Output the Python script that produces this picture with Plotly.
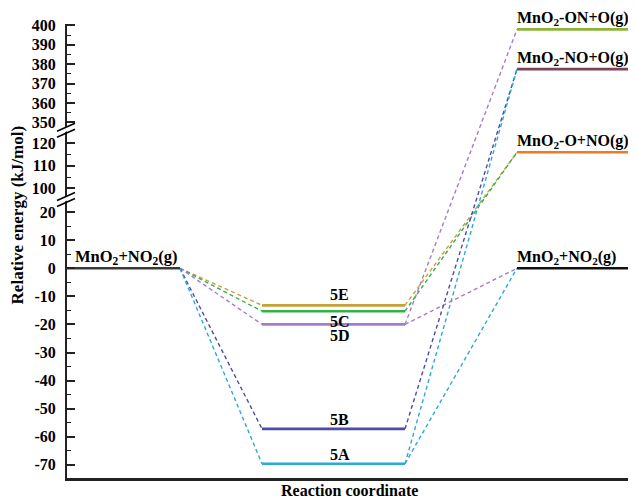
import plotly.graph_objects as go

# ---------------- data ----------------
reactant_label = "MnO<sub>2</sub>+NO<sub>2</sub>(g)"
reactant_energy = 0.0

intermediates = ["5E", "5C", "5D", "5B", "5A"]
intermediate_energy = [-13.2, -15.3, -20.0, -57.2, -69.6]
intermediate_color = ["#C9A03C", "#34B04A", "#A77BCB", "#4A4CA6", "#2BA8DF"]

products = ["MnO<sub>2</sub>-ON+O(g)", "MnO<sub>2</sub>-NO+O(g)",
            "MnO<sub>2</sub>-O+NO(g)", "MnO<sub>2</sub>+NO<sub>2</sub>(g)"]
product_energy = [398.0, 377.5, 116.0, 0.0]
product_color = ["#8DB23A", "#7A4158", "#F07A24", "#111111"]

# connections intermediate -> product
links = [("5E", 2), ("5C", 2), ("5D", 0), ("5D", 3), ("5B", 1), ("5A", 1), ("5A", 3)]

tick_major = [-70, -60, -50, -40, -30, -20, -10, 0, 10, 20, 100, 110, 120,
              350, 360, 370, 380, 390, 400]
tick_minor = [-65, -55, -45, -35, -25, -15, -5, 5, 15, 105, 115,
              355, 365, 375, 385, 395]

# ---------------- broken-axis transform ----------------
segments = [(-75.0, 24.5, 1.0), (95.0, 125.8, 0.8), (345.9, 402.0, 0.69)]


def tf(v):
    disp = segments[0][0]
    for lo, hi, s in segments:
        if v <= hi or (lo, hi, s) == segments[-1]:
            return disp + (max(v, lo) - lo) * s
        disp += (hi - lo) * s
    return disp


breaks = []
d = segments[0][0]
for lo, hi, s in segments[:-1]:
    d += (hi - lo) * s
    breaks.append(d)

# stage spans (x units)
span_react = (0, 113)
span_inter = (195, 338)
span_prod = (450, 566)

FONT = "Liberation Serif"
fig = go.Figure()

# dashed links reactant -> intermediates
for e, c in zip(intermediate_energy, intermediate_color):
    fig.add_trace(go.Scatter(x=[span_react[1], span_inter[0]], y=[tf(reactant_energy), tf(e)],
                             mode="lines", line=dict(color=c, width=1.4, dash="4px,3px"),
                             hoverinfo="skip", showlegend=False))
# dashed links intermediates -> products
for name, pi in links:
    i = intermediates.index(name)
    fig.add_trace(go.Scatter(x=[span_inter[1], span_prod[0]],
                             y=[tf(intermediate_energy[i]), tf(product_energy[pi])],
                             mode="lines", line=dict(color=intermediate_color[i], width=1.4, dash="4px,3px"),
                             hoverinfo="skip", showlegend=False))

# levels
fig.add_trace(go.Scatter(x=list(span_react), y=[tf(reactant_energy)] * 2, mode="lines",
                         line=dict(color="#3a3a3a", width=2.6), showlegend=False))
for e, c in zip(intermediate_energy, intermediate_color):
    fig.add_trace(go.Scatter(x=list(span_inter), y=[tf(e)] * 2, mode="lines",
                             line=dict(color=c, width=2.6), showlegend=False))
for e, c in zip(product_energy, product_color):
    fig.add_trace(go.Scatter(x=list(span_prod), y=[tf(e)] * 2, mode="lines",
                             line=dict(color=c, width=2.6), showlegend=False))

annotations = []
lab_font = dict(family=FONT, size=16.5, color="black")
annotations.append(dict(x=span_react[0] + 6, y=tf(reactant_energy), text="<b>" + reactant_label + "</b>",
                        xanchor="left", yanchor="bottom", showarrow=False, font=lab_font, yshift=-1))
for p, e in zip(products, product_energy):
    annotations.append(dict(x=span_prod[0] - 2, y=tf(e), text="<b>" + p + "</b>",
                            xanchor="left", yanchor="bottom", showarrow=False,
                            font=dict(family=FONT, size=16, color="black"), yshift=-1))
inter_pos = {"5E": ("bottom", 0), "5C": ("top", 0), "5D": ("top", -1), "5B": ("bottom", -1), "5A": ("bottom", -1)}
xc = (span_inter[0] + span_inter[1]) / 2 + 6
for name, e in zip(intermediates, intermediate_energy):
    ya, ys = inter_pos[name]
    annotations.append(dict(x=xc, y=tf(e), text="<b>" + name + "</b>", xanchor="center", yanchor=ya,
                            yshift=ys, showarrow=False, font=dict(family=FONT, size=16, color="black")))

# axis titles
annotations.append(dict(xref="paper", yref="paper", x=0.5, y=-0.004, text="<b>Reaction coordinate</b>",
                        xanchor="center", yanchor="top", showarrow=False,
                        font=dict(family=FONT, size=16, color="black")))
annotations.append(dict(xref="paper", yref="paper", x=-0.088, y=0.579, text="<b>Relative energy (kJ/mol)</b>",
                        xanchor="center", yanchor="middle", textangle=-90, showarrow=False,
                        font=dict(family=FONT, size=17, color="black")))

# axis-break marks
shapes = []
for b in breaks:
    shapes.append(dict(type="path", xref="paper", yref="y", xsizemode="pixel", ysizemode="pixel",
                       xanchor=0, yanchor=b, path="M -2,-2 L 4,1 L 4,6 L -2,3 Z",
                       fillcolor="white", line=dict(width=0), layer="above"))
    for off in (-3, 3):
        shapes.append(dict(type="line", xref="paper", yref="y", xsizemode="pixel", ysizemode="pixel",
                           xanchor=0, yanchor=b, x0=-10, x1=8, y0=off - 4, y1=off + 4,
                           line=dict(color="black", width=1.6), layer="above"))

fig.update_layout(
    width=628, height=490,
    margin=dict(l=59, r=4, t=16, b=20),
    plot_bgcolor="white", paper_bgcolor="white",
    annotations=annotations, shapes=shapes,
    xaxis=dict(range=[0, 565], showline=True, linecolor="#222", linewidth=2.5, showticklabels=False,
               ticks="", showgrid=False, zeroline=False, fixedrange=True),
    yaxis=dict(range=[-74.7, 87.0], showline=True, linecolor="#222", linewidth=2,
               tickmode="array", tickvals=[tf(v) for v in tick_major],
               ticktext=["<b>%d</b>" % v for v in tick_major],
               ticks="inside", ticklen=8, tickwidth=1.6, tickcolor="#222",
               ticklabelstandoff=6,
               minor=dict(tickmode="array", tickvals=[tf(v) for v in tick_minor], ticks="inside",
                          ticklen=4, tickwidth=1.4, tickcolor="#222", showgrid=False),
               tickfont=dict(family=FONT, size=16, color="black"),
               showgrid=False, zeroline=False, fixedrange=True),
)

fig.write_html("out.html")
